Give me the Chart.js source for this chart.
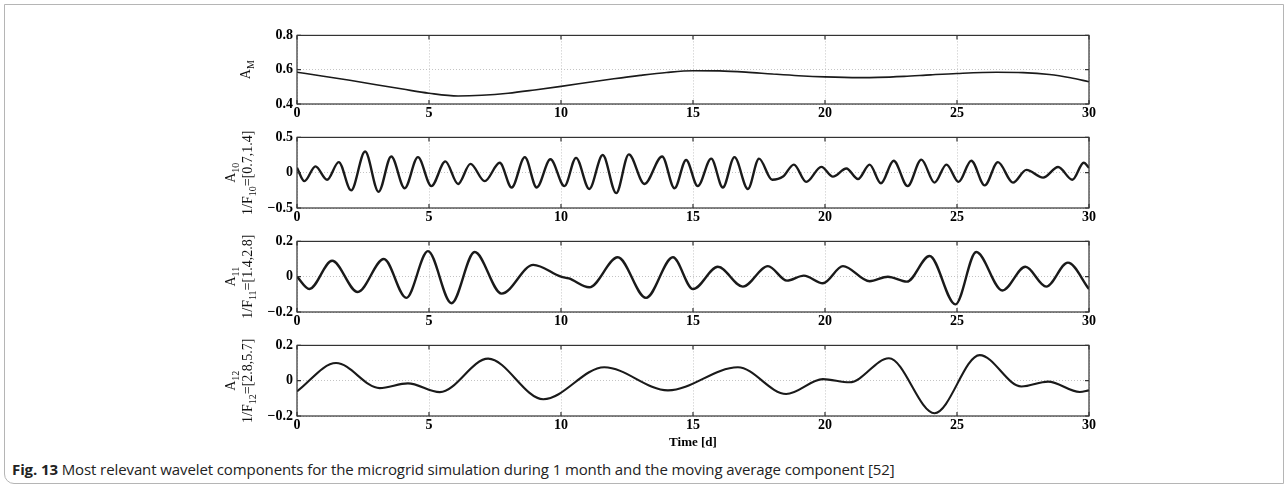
<!DOCTYPE html>
<html>
<head>
<meta charset="utf-8">
<script src="https://cdn.jsdelivr.net/npm/chart.js@4.4.1/dist/chart.umd.min.js"></script>
<style>
body{margin:0;background:#fff;width:1288px;height:487px;overflow:hidden;position:relative}
canvas{position:absolute;left:0}
#frame{position:absolute;left:4px;top:4px;width:1280px;height:480px;border:1px solid #b5b5b5;border-radius:0 0 0 10px;box-sizing:border-box}
#cap{position:absolute;left:12px;top:459px;font-family:'Open Sans';font-size:15px;color:#222;white-space:nowrap;letter-spacing:-0.1px}
</style>
</head>
<body>
<div id="frame"></div>
<div id="cap"><b>Fig. 13</b> Most relevant wavelet components for the microgrid simulation during 1 month and the moving average component [52]</div>
<script>
// values (time in days)
const xTicks = [0, 5, 10, 15, 20, 25, 30];

const amX = [0,1,2,3,4,5,6.1,7,8,9,10,11,12,13,14,15,16,17,18,19,20,21.3,22,23,24,25,26.5,27.5,28.5,29.3,30];
const amY = [0.585,0.562,0.538,0.512,0.487,0.463,0.447,0.451,0.463,0.482,0.503,0.525,0.547,0.567,0.584,0.594,0.593,0.586,0.575,0.565,0.558,0.554,0.555,0.561,0.57,0.578,0.585,0.583,0.572,0.553,0.53];

const a10X = [0,0.28,0.70,1.14,1.58,2.05,2.58,3.09,3.57,4.08,4.58,5.09,5.62,6.10,6.57,7.11,7.68,8.13,8.63,9.08,9.60,10.13,10.57,11.07,11.58,12.09,12.57,13.16,13.83,14.30,14.74,15.18,15.69,16.13,16.57,17.08,17.50,18.0,18.41,18.82,19.29,19.86,20.30,20.81,21.25,21.69,22.12,22.6,23.13,23.65,24.15,24.60,25.06,25.54,26.05,26.55,27.12,27.63,28.26,28.83,29.37,29.80,30];
const a10Y = [0.07,-0.12,0.09,-0.10,0.15,-0.25,0.30,-0.27,0.23,-0.22,0.22,-0.19,0.16,-0.16,0.125,-0.12,0.14,-0.21,0.22,-0.21,0.19,-0.19,0.21,-0.23,0.25,-0.29,0.26,-0.16,0.23,-0.22,0.18,-0.19,0.20,-0.21,0.22,-0.23,0.20,-0.10,-0.055,0.115,-0.13,0.083,-0.055,0.06,-0.09,0.115,-0.15,0.17,-0.19,0.185,-0.14,0.115,-0.13,0.17,-0.18,0.15,-0.14,0.04,-0.07,0.08,-0.10,0.14,0.07];

const a11X = [0,0.47,1.33,2.30,3.29,4.14,4.96,5.85,6.73,7.75,8.95,10.0,10.3,11.07,12.15,13.22,14.24,15.0,15.94,16.89,17.84,18.56,19.2,19.92,20.68,21.69,22.38,23.1,23.96,24.94,25.73,26.72,27.59,28.38,29.2,30];
const a11Y = [0,-0.07,0.09,-0.087,0.10,-0.12,0.145,-0.15,0.14,-0.096,0.067,0.0,-0.01,-0.06,0.11,-0.12,0.11,-0.07,0.056,-0.056,0.06,-0.022,0.006,-0.037,0.06,-0.026,0.0,-0.028,0.117,-0.157,0.14,-0.078,0.056,-0.056,0.08,-0.07];

const a12X = [0,1.48,3.13,4.2,5.41,7.24,9.33,11.64,14.05,16.70,18.53,19.92,20.93,22.42,24.15,25.86,27.44,28.45,29.65,30];
const a12Y = [-0.06,0.10,-0.042,-0.015,-0.065,0.125,-0.105,0.076,-0.055,0.076,-0.075,0.009,-0.009,0.127,-0.184,0.145,-0.033,-0.005,-0.064,-0.055];

const serif = "'Liberation Serif', 'DejaVu Serif', serif";

// frame box, inward ticks and the rotated y labels with subscripts
const boxPlugin = {
  id: 'box',
  afterDraw(chart, args, opts) {
    const {ctx, chartArea: a, scales: {x, y}} = chart;
    ctx.save();
    ctx.strokeStyle = '#333';
    ctx.lineWidth = 1.2;
    ctx.strokeRect(a.left, a.top, a.right - a.left, a.bottom - a.top);
    ctx.beginPath();
    x.ticks.forEach(t => {
      const px = x.getPixelForValue(t.value);
      ctx.moveTo(px, a.bottom); ctx.lineTo(px, a.bottom - 4);
      ctx.moveTo(px, a.top); ctx.lineTo(px, a.top + 4);
    });
    y.ticks.forEach(t => {
      const py = y.getPixelForValue(t.value);
      ctx.moveTo(a.left, py); ctx.lineTo(a.left + 4, py);
      ctx.moveTo(a.right, py); ctx.lineTo(a.right - 4, py);
    });
    ctx.stroke();

    ctx.fillStyle = '#111';
    ctx.textBaseline = 'alphabetic';
    const cy = (a.top + a.bottom) / 2;
    opts.lines.forEach((parts, i) => {
      const fonts = parts.map(p => p[1] ? '10px ' + serif : '14px ' + serif);
      let total = 0;
      const widths = parts.map((p, k) => { ctx.font = fonts[k]; const w = ctx.measureText(p[0]).width; total += w; return w; });
      ctx.save();
      ctx.translate(opts.xs[i], cy);
      ctx.rotate(-Math.PI / 2);
      let cx = -total / 2;
      parts.forEach((p, k) => {
        ctx.font = fonts[k];
        ctx.fillText(p[0], cx, p[1] ? 8 : 4);
        cx += widths[k];
      });
      ctx.restore();
    });
    ctx.restore();
  }
};

function fmt(v) {
  if (Math.abs(v) < 1e-9) return '0';
  return (v < 0 ? '\u2212' : '') + Math.abs(v).toFixed(1);
}

function panel(top, plotH, xs, ys, yMin, yMax, yStep, lw, lines, lineXs, last) {
  const padTop = 8;
  const axisH = last ? 34 : 18;
  const cv = document.createElement('canvas');
  cv.width = 1288;
  cv.height = padTop + plotH + axisH;
  cv.style.top = (top - padTop) + 'px';
  document.body.appendChild(cv);

  new Chart(cv, {
    type: 'line',
    data: {
      datasets: [{
        data: xs.map((v, i) => ({x: v, y: ys[i]})),
        borderColor: '#1a1a1a',
        borderWidth: lw,
        pointRadius: 0,
        fill: false,
        cubicInterpolationMode: 'monotone'
      }]
    },
    options: {
      responsive: false,
      animation: false,
      layout: {padding: {top: padTop, right: 199, left: 0, bottom: 0}},
      plugins: {
        legend: {display: false},
        tooltip: {enabled: false},
        box: {lines: lines, xs: lineXs}
      },
      scales: {
        x: {
          type: 'linear', min: 0, max: 30,
          afterBuildTicks: s => { s.ticks = xTicks.map(v => ({value: v})); },
          afterFit: s => { s.height = axisH; },
          ticks: {font: {family: serif, size: 14, weight: 'bold'}, color: '#000', padding: 1, maxRotation: 0},
          grid: {color: '#c4c4c4', drawTicks: false},
          border: {display: false, dash: [1, 2]},
          title: {display: !!last, text: 'Time [d]', font: {family: serif, size: 13, weight: 'bold'}, color: '#000', padding: 0}
        },
        y: {
          min: yMin, max: yMax,
          afterFit: s => { s.width = 297; },
          ticks: {stepSize: yStep, font: {family: serif, size: 14, weight: 'bold'}, color: '#000', padding: 4, callback: fmt},
          grid: {color: '#c4c4c4', drawTicks: false},
          border: {display: false, dash: [1, 2]}
        }
      }
    },
    plugins: [boxPlugin]
  });
}

panel(31, 73, amX, amY, 0.4, 0.8, 0.2, 1.6, [[['A', false], ['M', true]]], [246], false);
panel(133, 75, a10X, a10Y, -0.5, 0.5, 0.5, 2.4,
  [[['A', false], ['10', true]], [['1/F', false], ['10', true], ['=[0.7,1.4]', false]]], [231, 248], false);
panel(237, 75, a11X, a11Y, -0.2, 0.2, 0.2, 2.4,
  [[['A', false], ['11', true]], [['1/F', false], ['11', true], ['=[1.4,2.8]', false]]], [231, 248], false);
panel(341, 75, a12X, a12Y, -0.2, 0.2, 0.2, 2.1,
  [[['A', false], ['12', true]], [['1/F', false], ['12', true], ['=[2.8,5.7]', false]]], [231, 248], true);
</script>
</body>
</html>
